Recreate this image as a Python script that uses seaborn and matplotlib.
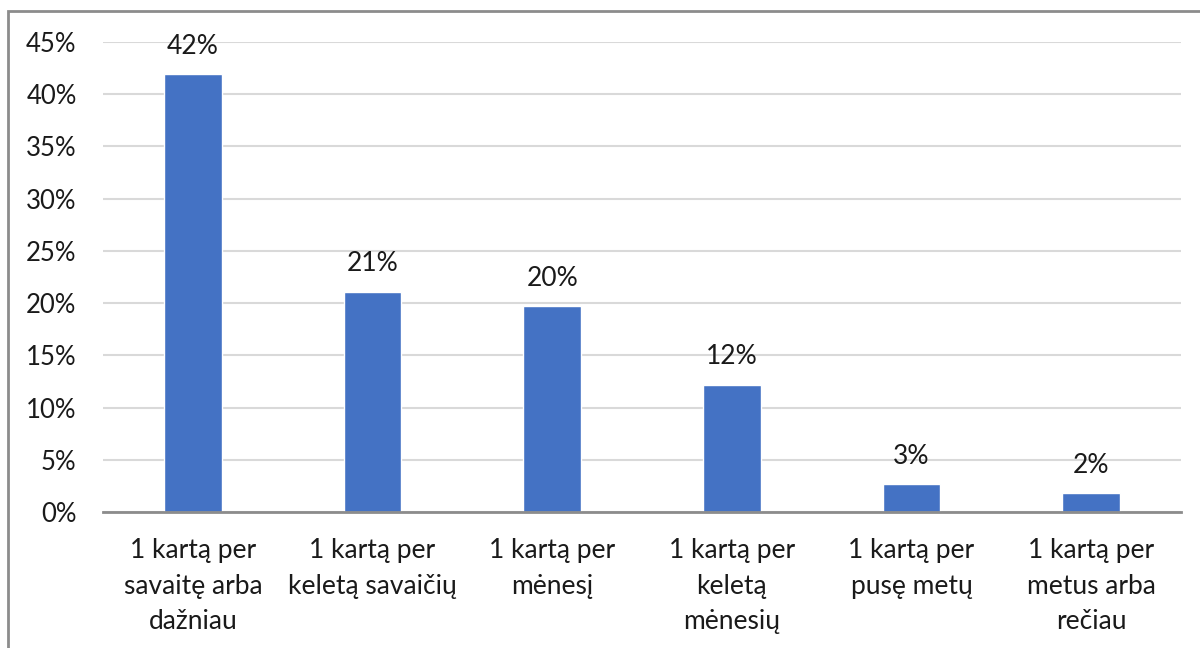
import matplotlib
matplotlib.use("Agg")
import matplotlib.pyplot as plt
import seaborn as sns
import pandas as pd
from matplotlib.patches import Rectangle

categories = [
    "1 kartą per\nsavaitę arba\ndažniau",
    "1 kartą per\nkeletą savaičių",
    "1 kartą per\nmėnesį",
    "1 kartą per\nkeletą\nmėnesių",
    "1 kartą per\npusę metų",
    "1 kartą per\nmetus arba\nrečiau",
]
values = [41.9, 21.1, 19.7, 12.2, 2.7, 1.8]
labels = ["42%", "21%", "20%", "12%", "3%", "2%"]
yticks = [0, 5, 10, 15, 20, 25, 30, 35, 40, 45]

sns.set_theme(style="white")
plt.rcParams["font.family"] = ["Lato", "DejaVu Sans"]

df = pd.DataFrame({"cat": categories, "val": values})

fig = plt.figure(figsize=(12, 6.48), dpi=100)
ax = fig.add_axes([103 / 1200, 1 - 512 / 648, (1181 - 103) / 1200, (512 - 42) / 648])
sns.barplot(data=df, x="cat", y="val", color="#4472C4", width=0.32, saturation=1, ax=ax)

ax.set_ylim(0, 45)
ax.set_yticks(yticks)
ax.set_yticklabels([f"{t}%" for t in yticks])
ax.yaxis.grid(True, color="#d9d9d9", linewidth=1.5)
ax.set_axisbelow(True)
for s in ["top", "right", "left"]:
    ax.spines[s].set_visible(False)
ax.spines["bottom"].set_color("#8c8c8c")
ax.spines["bottom"].set_linewidth(2)
ax.set_xlabel("")
ax.set_ylabel("")
ax.tick_params(axis="y", length=0, labelsize=18.5, colors="#1a1a1a", pad=19)
ax.tick_params(axis="x", length=0, labelsize=19, colors="#1a1a1a", pad=19)
for t in ax.get_xticklabels():
    t.set_linespacing(1.52)

for i, (v, lab) in enumerate(zip(values, labels)):
    ax.annotate(lab, (i, v), xytext=(0, 11), textcoords="offset points",
                ha="center", va="bottom", fontsize=19, color="#1a1a1a")

fig.patches.append(Rectangle((8 / 1200, -0.1), 1.2, 1.1 - 11 / 648,
                             transform=fig.transFigure, fill=False,
                             edgecolor="#8c8c8c", linewidth=2))

fig.savefig("out.png", dpi=100, facecolor="white")
